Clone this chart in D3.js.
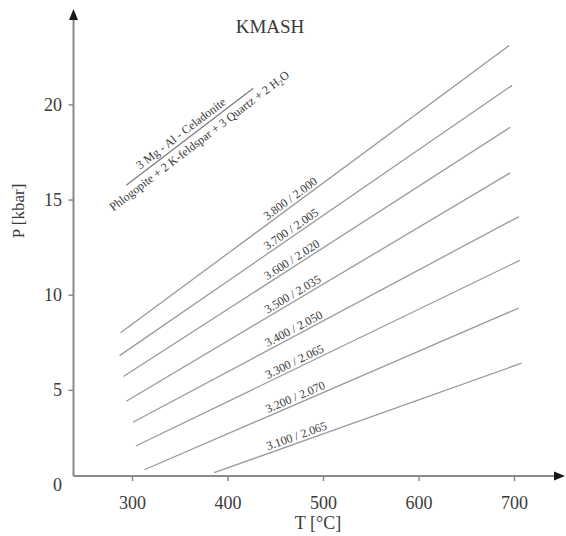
<!DOCTYPE html>
<html>
<head>
<meta charset="utf-8">
<script src="https://cdn.jsdelivr.net/npm/d3@7"></script>
<style>
  html, body { margin: 0; padding: 0; background: #fff; }
  svg { display: block; }
  text { font-family: "Liberation Serif", "Times New Roman", serif; fill: #3a3a3a; }
</style>
</head>
<body>
<svg id="chart" width="566" height="536"></svg>
<script>
// ---- Data ----
const lineLabels = ["3.800 / 2.000", "3.700 / 2.005", "3.600 / 2.020", "3.500 / 2.035",
                    "3.400 / 2.050", "3.300 / 2.065", "3.200 / 2.070", "3.100 / 2.065"];
const tStart = [288, 287, 291, 294, 301, 304, 313, 386];
const pStart = [8.0, 6.8, 5.7, 4.4, 3.3, 2.05, 0.8, 0.65];
const tEnd   = [695, 698, 696, 696, 705, 706, 705, 708];
const pEnd   = [23.1, 21.0, 18.8, 16.4, 14.1, 11.8, 9.3, 6.4];

const xTicks = [300, 400, 500, 600, 700];
const yTicks = [0, 5, 10, 15, 20];

const title = "KMASH";
const xTitle = "T [°C]";
const yTitle = "P [kbar]";
// reaction annotation: separator segment in T/P
const reactionT = [294, 427];
const reactionP = [15.75, 20.85];
const reactionTop = "3 Mg - Al - Celadonite";

// ---- Layout ----
const svg = d3.select("#chart");
const x = d3.scaleLinear().domain([300, 700]).range([132, 514]);
const y = d3.scaleLinear().domain([0, 20]).range([485, 104.4]);
const axisX0 = 73.5, axisY0 = 476;
const axisColor = "#8a8a8a";

// lines
const lines = lineLabels.map((lab, i) => ({
  label: lab, t0: tStart[i], p0: pStart[i], t1: tEnd[i], p1: pEnd[i]
}));

svg.append("g").selectAll("line").data(lines).join("line")
  .attr("x1", d => x(d.t0)).attr("y1", d => y(d.p0))
  .attr("x2", d => x(d.t1)).attr("y2", d => y(d.p1))
  .attr("stroke", "#9a9a9a").attr("stroke-width", 1.3);

// line labels
const labelX = 269;
svg.append("g").selectAll("text").data(lines).join("text")
  .attr("transform", d => {
    const tl = x.invert(labelX);
    const pl = d.p0 + (tl - d.t0) * (d.p1 - d.p0) / (d.t1 - d.t0);
    const ang = Math.atan2(y(d.p1) - y(d.p0), x(d.t1) - x(d.t0)) * 180 / Math.PI;
    return `translate(${labelX},${y(pl)}) rotate(${ang})`;
  })
  .attr("dy", -3)
  .attr("font-size", 12)
  .text(d => d.label);

// axes
const gx = svg.append("g").attr("transform", `translate(0,${axisY0})`)
  .call(d3.axisBottom(x).tickValues(xTicks).tickSize(5).tickPadding(15).tickSizeOuter(0));
gx.select(".domain").remove();
gx.selectAll(".tick line").attr("stroke", axisColor).attr("stroke-width", 1.5);
gx.selectAll(".tick text").attr("font-size", 18).attr("fill", "#3a3a3a")
  .attr("font-family", "'Liberation Serif', serif");

const gy = svg.append("g").attr("transform", `translate(${axisX0},0)`)
  .call(d3.axisLeft(y).tickValues(yTicks).tickSize(5).tickPadding(7).tickSizeOuter(0));
gy.select(".domain").remove();
gy.selectAll(".tick line").attr("stroke", axisColor).attr("stroke-width", 1.5)
  .attr("display", d => d === 0 ? "none" : null);
gy.selectAll(".tick text").attr("font-size", 18).attr("fill", "#3a3a3a")
  .attr("font-family", "'Liberation Serif', serif")
  .attr("x", -11.5);

// axis lines + arrows
svg.append("line").attr("x1", axisX0).attr("y1", axisY0).attr("x2", 556).attr("y2", axisY0)
  .attr("stroke", axisColor).attr("stroke-width", 2);
svg.append("line").attr("x1", axisX0).attr("y1", axisY0).attr("x2", axisX0).attr("y2", 18)
  .attr("stroke", axisColor).attr("stroke-width", 2);
svg.append("path").attr("d", `M${axisX0},9 L${axisX0 - 4.5},20 L${axisX0 + 4.5},20 Z`).attr("fill", "#1a1a1a");
svg.append("path").attr("d", `M565,${axisY0} L554,${axisY0 - 4.5} L554,${axisY0 + 4.5} Z`).attr("fill", "#1a1a1a");

// titles
svg.append("text").attr("x", 270).attr("y", 33).attr("text-anchor", "middle")
  .attr("font-size", 19).text(title);
svg.append("text").attr("x", 318).attr("y", 529).attr("text-anchor", "middle")
  .attr("font-size", 18).text(xTitle);
svg.append("text").attr("transform", "translate(24,211) rotate(-90)").attr("text-anchor", "middle")
  .attr("font-size", 17).text(yTitle);

// reaction annotation
const rx0 = x(reactionT[0]), ry0 = y(reactionP[0]), rx1 = x(reactionT[1]), ry1 = y(reactionP[1]);
const rAng = Math.atan2(ry1 - ry0, rx1 - rx0) * 180 / Math.PI;
const rmx = (rx0 + rx1) / 2, rmy = (ry0 + ry1) / 2;
svg.append("line").attr("x1", rx0).attr("y1", ry0).attr("x2", rx1).attr("y2", ry1)
  .attr("stroke", "#7a7a7a").attr("stroke-width", 1.2);
const rg = svg.append("g").attr("transform", `translate(${rmx},${rmy}) rotate(${rAng})`);
rg.append("text").attr("x", -5).attr("y", -4).attr("text-anchor", "middle")
  .attr("font-size", 12).text(reactionTop);
const bottom = rg.append("text").attr("x", 5).attr("y", 13).attr("text-anchor", "middle")
  .attr("font-size", 12);
bottom.append("tspan").text("Phlogopite + 2 K-feldspar + 3 Quartz + 2 H");
bottom.append("tspan").attr("font-size", 8).attr("dy", 2.5).text("2");
bottom.append("tspan").attr("dy", -2.5).text("O");
</script>
</body>
</html>
